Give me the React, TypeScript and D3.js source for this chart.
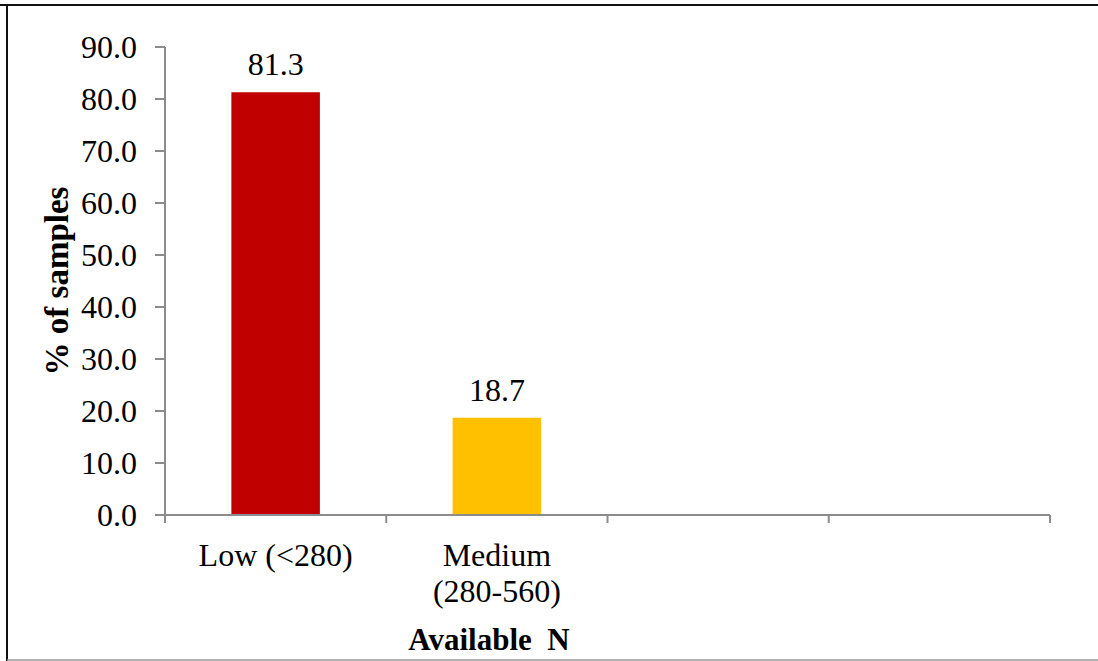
import React from "react";
import * as d3 from "d3";

// Share of soil samples in each available-N class
const categoryLines: string[][] = [["Low (<280)"], ["Medium", "(280-560)"], [], []];
const values: (number | null)[] = [81.3, 18.7, null, null];
const barColors = ["#C00000", "#FFC000", "none", "none"];
const yTicks = [0, 10, 20, 30, 40, 50, 60, 70, 80, 90];
const yAxisTitle = "% of samples";
const xAxisTitle = "Available\u00a0\u00a0N";

const W = 1098;
const H = 661;
const FONT = "'Liberation Serif', 'Times New Roman', serif";
const AXIS = "#8c8c8c";
const FS = 32;

export default function App() {
  const left = 165;
  const right = 1050;
  const top = 47;
  const bottom = 515;

  const x = d3
    .scaleBand<number>()
    .domain(categoryLines.map((_, i) => i))
    .range([left, right])
    .paddingInner(0)
    .paddingOuter(0);
  const y = d3.scaleLinear().domain([0, 90]).range([bottom, top]);
  const bw = x.bandwidth();
  const barW = bw * 0.4;

  const xTickPositions = categoryLines.map((_, i) => x(i) as number).concat([right]);

  return (
    <svg
      width={W}
      height={H}
      style={{ position: "fixed", left: 0, top: 0, background: "#fff" }}
      fontFamily={FONT}
    >
      <rect x={0} y={0} width={W} height={H} fill="#fff" />
      {/* frame */}
      <line x1={0} x2={W} y1={5} y2={5} stroke="#111" strokeWidth={2} />
      <line x1={7} x2={7} y1={4} y2={H} stroke="#111" strokeWidth={2} />
      <line x1={7} x2={W} y1={660} y2={660} stroke="#999" strokeWidth={1.5} />

      {/* bars */}
      {values.map((v, i) =>
        v == null ? null : (
          <rect
            key={i}
            x={(x(i) as number) + (bw - barW) / 2}
            y={y(v)}
            width={barW}
            height={y(0) - y(v)}
            fill={barColors[i]}
          />
        )
      )}

      {/* value labels */}
      {values.map((v, i) =>
        v == null ? null : (
          <text
            key={i}
            x={(x(i) as number) + bw / 2}
            y={y(v) - 17}
            textAnchor="middle"
            fontSize={FS}
            fill="#000"
          >
            {v.toFixed(1)}
          </text>
        )
      )}

      {/* y axis */}
      <line x1={left} x2={left} y1={y(90)} y2={bottom + 8} stroke={AXIS} strokeWidth={2} />
      {yTicks.map((t) => (
        <g key={t}>
          <line x1={left - 10} x2={left} y1={y(t)} y2={y(t)} stroke={AXIS} strokeWidth={2} />
          <text
            x={137}
            y={y(t)}
            dy="0.34em"
            textAnchor="end"
            fontSize={FS}
            fill="#000"
          >
            {t.toFixed(1)}
          </text>
        </g>
      ))}

      {/* x axis */}
      <line x1={left} x2={right} y1={bottom} y2={bottom} stroke={AXIS} strokeWidth={2} />
      {xTickPositions.map((p, i) => (
        <line key={i} x1={p} x2={p} y1={bottom} y2={bottom + 8} stroke={AXIS} strokeWidth={2} />
      ))}
      {categoryLines.map((lines, i) => (
        <text
          key={i}
          x={(x(i) as number) + bw / 2}
          y={566}
          textAnchor="middle"
          fontSize={FS}
          fill="#000"
        >
          {lines.map((ln, j) => (
            <tspan key={j} x={(x(i) as number) + bw / 2} dy={j === 0 ? 0 : 36}>
              {ln}
            </tspan>
          ))}
        </text>
      ))}

      {/* axis titles */}
      <text
        transform={`translate(68, ${(top + bottom) / 2}) rotate(-90)`}
        textAnchor="middle"
        fontSize={33}
        fontWeight="bold"
        fill="#000"
      >
        {yAxisTitle}
      </text>
      <text x={489} y={650} textAnchor="middle" fontSize={31} fontWeight="bold" fill="#000">
        {xAxisTitle}
      </text>
    </svg>
  );
}
